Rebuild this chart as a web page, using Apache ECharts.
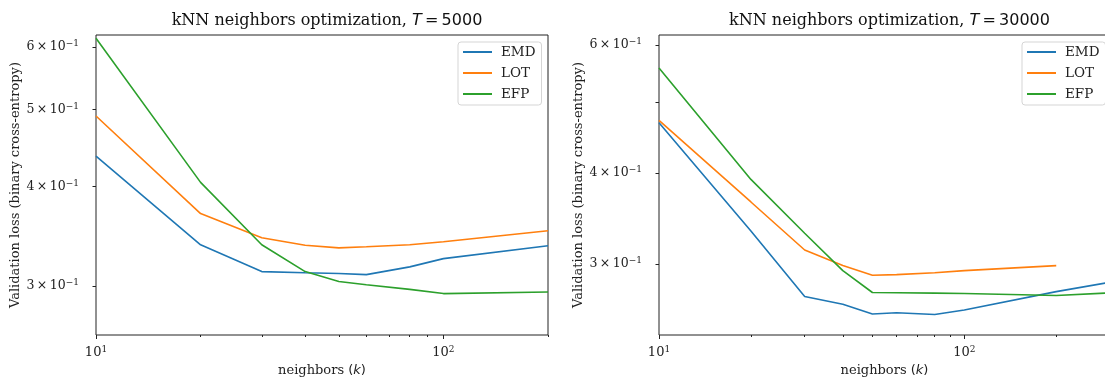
<!DOCTYPE html>
<html>
<head>
<meta charset="utf-8">
<script src="https://cdn.jsdelivr.net/npm/echarts@6/dist/echarts.min.js"></script>
<style>
  html, body { margin: 0; padding: 0; background: #fff; }
  #main { width: 1105px; height: 378px; }
</style>
</head>
<body>
<div id="main"></div>
<script>
// neighbors k, left panel (T = 5000)
const kLeft = [10, 20, 30, 40, 50, 60, 80, 100, 200];
const emdLeft = [0.437, 0.338, 0.3127, 0.3116, 0.311, 0.310, 0.317, 0.3247, 0.337];
const lotLeft = [0.491, 0.370, 0.345, 0.3375, 0.335, 0.336, 0.338, 0.341, 0.352];
const efpLeft = [0.615, 0.405, 0.338, 0.3127, 0.3038, 0.301, 0.297, 0.2934, 0.2948];

// right panel (T = 30000)
const kRight = [10, 20, 30, 40, 50, 60, 80, 100, 200, 300];
const emdRight = [0.469, 0.333, 0.2705, 0.264, 0.256, 0.257, 0.2556, 0.2592, 0.2748, 0.283];
const lotRight = [0.4726, 0.365, 0.3135, 0.2985, 0.2894, 0.290, 0.2917, 0.2937, 0.2984, null];
const efpRight = [0.558, 0.392, 0.3306, 0.2937, 0.274, 0.2738, 0.2735, 0.2731, 0.2714, 0.2737];

const seriesNames = ['EMD', 'LOT', 'EFP'];
const colors = ['#1f77b4', '#ff7f0e', '#2ca02c'];

// ticks
const xMajor = [10, 100];
const xMinorLeft = [20, 30, 40, 50, 60, 70, 80, 90, 200];
const xMinorRight = [20, 30, 40, 50, 60, 70, 80, 90, 200, 300];
const yTicksLeft = [0.3, 0.4, 0.5, 0.6];
const yLabelsLeft = [0.3, 0.4, 0.5, 0.6];
const yTicksRight = [0.3, 0.4, 0.5, 0.6];
const yLabelsRight = [0.3, 0.4, 0.6];

const titles = ['5000', '30000'];

const serif = 'DejaVu Serif';
const sans = 'DejaVu Sans';

function pairs(xs, ys) {
    return xs.map((x, i) => [x, ys[i]]);
}

const chart = echarts.init(document.getElementById('main'), null, { renderer: 'canvas' });

// right panel is cut off by the figure edge, like the original
const grids = [
    { left: 96, top: 35, width: 452, height: 300 },
    { left: 659, top: 35, width: 451, height: 300 }
];
const xRanges = [[10, 200], [10, 300]];
const yRanges = [[0.2602, 0.6209], [0.2395, 0.6194]];
const xMinors = [xMinorLeft, xMinorRight];
const yTicks = [yTicksLeft, yTicksRight];
const yLabels = [yLabelsLeft, yLabelsRight];

const xAxes = [];
const yAxes = [];
grids.forEach((g, i) => {
    // main x axis: major ticks + labels + name
    xAxes.push({
        type: 'log', logBase: 10, gridIndex: i, position: 'bottom',
        min: xRanges[i][0], max: xRanges[i][1],
        axisLine: { show: false },
        splitLine: { show: false },
        axisTick: { show: true, length: 4, lineStyle: { color: '#222', width: 1 }, customValues: xMajor },
        axisLabel: {
            customValues: xMajor, margin: 10,
            formatter: v => '{b|10}{s|' + Math.round(Math.log10(v)) + '}',
            rich: {
                b: { fontFamily: serif, fontSize: 13, color: '#222' },
                s: { fontFamily: serif, fontSize: 9, color: '#222', verticalAlign: 'top', padding: [0, 0, 7, 0] }
            }
        },
        name: '{a|neighbors }{b|(}{i|k}{b|)}',
        nameLocation: 'middle', nameGap: 27,
        nameTextStyle: {
            rich: {
                a: { fontFamily: serif, fontSize: 13, color: '#222' },
                b: { fontFamily: sans, fontSize: 13, color: '#222' },
                i: { fontFamily: sans, fontStyle: 'italic', fontSize: 13, color: '#222' }
            }
        }
    });
    // minor x ticks
    xAxes.push({
        type: 'log', logBase: 10, gridIndex: i, position: 'bottom',
        min: xRanges[i][0], max: xRanges[i][1],
        axisLine: { show: false }, splitLine: { show: false },
        axisTick: { show: true, length: 2, lineStyle: { color: '#222', width: 1 }, customValues: xMinors[i] },
        axisLabel: { show: false }
    });
    yAxes.push({
        type: 'log', logBase: 10, gridIndex: i,
        min: yRanges[i][0], max: yRanges[i][1],
        axisLine: { show: false },
        splitLine: { show: false },
        axisTick: { show: true, length: 3.5, lineStyle: { color: '#222', width: 1 }, customValues: yTicks[i] },
        axisLabel: {
            customValues: yLabels[i], margin: 17,
            formatter: v => '{b|' + Math.round(v * 10) + '\u2009×\u200910}{s|−1}',
            rich: {
                b: { fontFamily: serif, fontSize: 12.5, color: '#222' },
                s: { fontFamily: serif, fontSize: 9, color: '#222', verticalAlign: 'top', padding: [0, 0, 7, 0] }
            }
        },
        name: 'Validation loss (binary cross-entropy)',
        nameLocation: 'middle', nameGap: 67, nameRotate: 90,
        nameTextStyle: { fontFamily: serif, fontSize: 13, color: '#222' }
    });
});

const series = [];
const panels = [
    { xs: kLeft, ys: [emdLeft, lotLeft, efpLeft] },
    { xs: kRight, ys: [emdRight, lotRight, efpRight] }
];
panels.forEach((p, i) => {
    p.ys.forEach((vals, j) => {
        series.push({
            name: seriesNames[j], type: 'line',
            xAxisIndex: i * 2, yAxisIndex: i,
            data: pairs(p.xs, vals).filter(d => d[1] != null),
            showSymbol: false, symbol: 'none',
            lineStyle: { color: colors[j], width: 1.6 },
            itemStyle: { color: colors[j] },
            animation: false
        });
    });
});

const option = {
    animation: false,
    backgroundColor: '#fff',
    title: grids.map((g, i) => ({
        text: '{a|kNN neighbors optimization, }{i|T}{b|\u2009=\u2009' + titles[i] + '}',
        left: g.left + g.width / 2, top: 8,
        textAlign: 'center',
        textStyle: {
            fontWeight: 'normal',
            rich: {
                a: { fontFamily: serif, fontWeight: 'normal', fontSize: 16, color: '#111' },
                i: { fontFamily: sans, fontWeight: 'normal', fontStyle: 'italic', fontSize: 16, color: '#111' },
                b: { fontFamily: sans, fontWeight: 'normal', fontSize: 16, color: '#111' }
            }
        }
    })),
    legend: [
        { left: 458 },
        { left: 1022 }
    ].map(l => ({
        left: l.left, top: 42, orient: 'vertical',
        data: seriesNames,
        icon: 'rect', itemWidth: 29, itemHeight: 2, itemGap: 7,
        padding: [3, 6, 4, 5],
        backgroundColor: 'rgba(255,255,255,0.8)',
        borderColor: '#d5d5d5', borderWidth: 1, borderRadius: 3,
        textStyle: { fontFamily: serif, fontSize: 13.5, color: '#222', padding: [0, 0, 0, 4] }
    })),
    grid: grids.map(g => Object.assign({
        show: true, borderColor: '#222', borderWidth: 1, backgroundColor: 'transparent',
        containLabel: false, outerBoundsMode: 'none'
    }, g)),
    xAxis: xAxes,
    yAxis: yAxes,
    series: series
};

chart.setOption(option);
</script>
</body>
</html>
